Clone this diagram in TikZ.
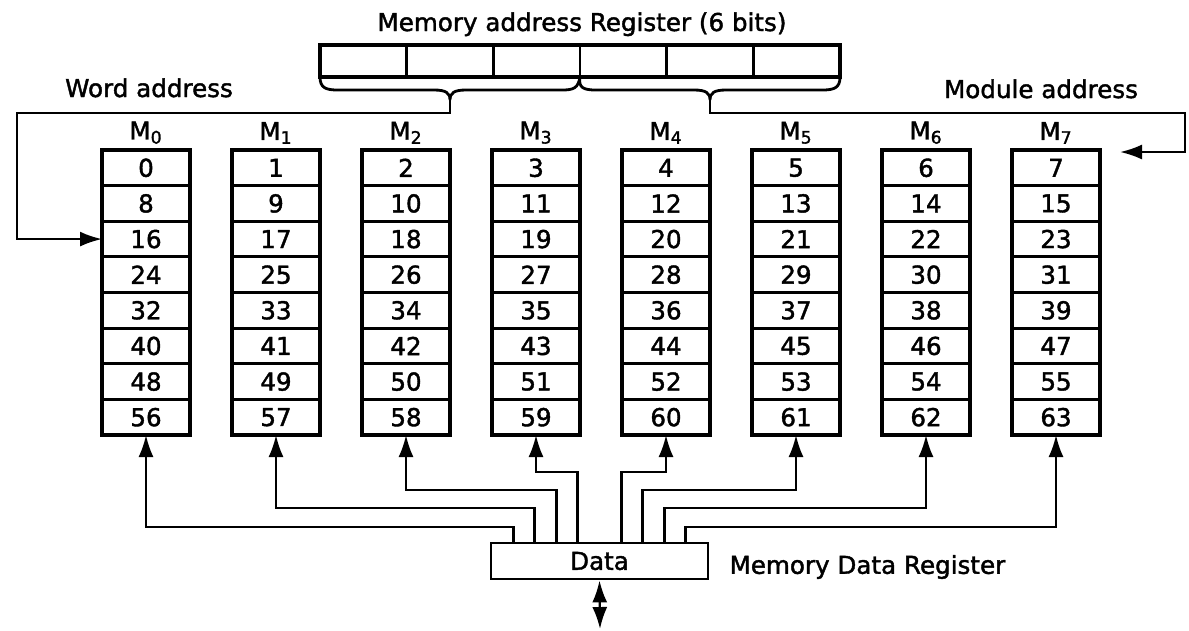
\documentclass[tikz,border=0pt]{standalone}
\usepackage{fontspec}
\setmainfont{DejaVu Sans}[FakeBold=1.6]
\usetikzlibrary{arrows.meta, calc, positioning}

\tikzset{
    cell/.style={draw, line width=1.6pt, minimum width=1.76cm, minimum height=0.7125cm, inner sep=0pt, outer sep=0pt},
    regcell/.style={draw, line width=1.6pt, minimum width=1.734cm, minimum height=0.64cm, inner sep=0pt, outer sep=0pt},
    wire/.style={line width=1.3pt},
    brace/.style={line width=1.6pt},
}

\begin{document}
\begin{tikzpicture}[x=0.02cm, y=-0.02cm, >={Latex[length=0.44cm,width=0.3cm]}, font=\fontsize{14pt}{16pt}\selectfont]
    \useasboundingbox (0,0) rectangle (1189,630);

    % Memory address register
    \node [anchor=base] (mar_lbl) at (582,31) {Memory address Register (6 bits)};
    \foreach \k in {1,...,6}
        \node [regcell] (r\k) at ({320+86.67*(\k-0.5)},61) {};
    \draw [line width=2.2pt] (r1.north west) rectangle (r6.south east);

    % Braces
    \coordinate (wtip) at (450,100);
    \coordinate (mtip) at (710,100);
    \draw [brace] (r1.south west) .. controls (320,88) and (326,90) .. (338,90) -- (434,90)
        .. controls (446,90) and (450,93) .. (wtip) .. controls (450,93) and (454,90) .. (466,90)
        -- (562,90) .. controls (574,90) and (578,88) .. (r3.south east);
    \draw [brace] (r4.south west) .. controls (578,88) and (584,90) .. (596,90) -- (694,90)
        .. controls (706,90) and (710,93) .. (mtip) .. controls (710,93) and (714,90) .. (726,90)
        -- (822,90) .. controls (834,90) and (840,88) .. (r6.south east);

    % Modules
    \foreach \i in {0,...,7} {
        \foreach \j in {0,...,7} {
            \pgfmathtruncatemacro{\num}{\i+8*\j}
            \node [cell] (c\i\j) at ({146+130*\i},{150+35.625*(\j+0.5)}) {\num};
        }
        \draw [line width=2.2pt] (c\i0.north west) rectangle (c\i7.south east);
        \node [above=0pt of c\i0] (lbl\i) {M\textsubscript{\i}};
    }

    % Word address
    \node [anchor=base] (waddr) at (149,97) {Word address};
    \coordinate (wbend) at (17,113);
    \draw [wire, ->] (wtip) |- (wbend) |- (c02.west);

    % Module address
    \node [anchor=base] (maddr) at (1041,98) {Module address};
    \coordinate (mbend) at (1185,113);
    \coordinate (mend) at (1120,152);
    \draw [wire, ->] (mtip) |- (mbend) |- (mend);

    % Memory data register
    \node [draw, line width=1.6pt, minimum width=4.34cm, minimum height=0.72cm] (mdr) at (599.5,561) {Data};
    \node [right=0.28cm of mdr, yshift=-0.12cm] (mdr_lbl) {Memory Data Register};
    \coordinate (bus) at (600,629);
    \draw [wire, <->] (mdr.south) -- (bus);

    % Data lines
    \foreach \i/\dx/\lev in {0/-86/527, 1/-65/508, 2/-43/490, 3/-22/472, 4/22/472, 5/43/490, 6/65/508, 7/86/527}
        \draw [wire, ->] ($(mdr.north)+(\dx,0)$) |- (c\i7.south |- 0,\lev) -- (c\i7.south);

\end{tikzpicture}
\end{document}
